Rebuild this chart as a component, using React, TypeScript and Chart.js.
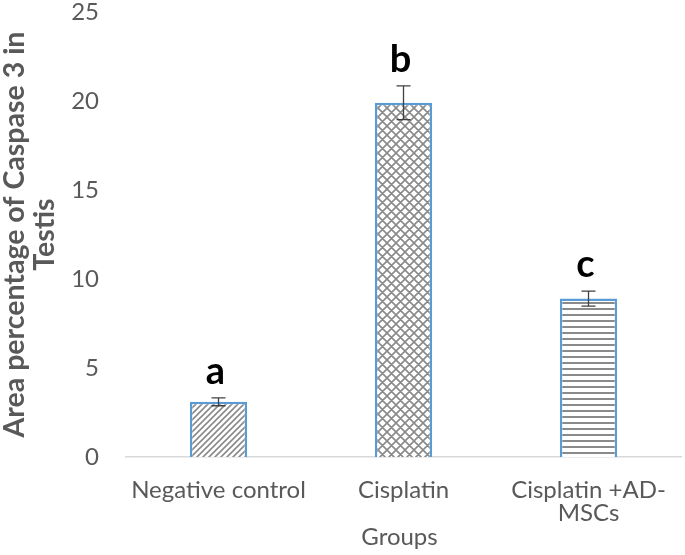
import React, { useEffect, useRef } from 'react';
import { Chart, registerables } from 'chart.js';

Chart.register(...registerables);

const categories = [['Negative control'], ['Cisplatin'], ['Cisplatin +AD-', 'MSCs']];
const values = [3.1, 19.9, 8.9];
const errors = [0.22, 0.95, 0.42];
const letters = ['a', 'b', 'c'];
const yMin = 0;
const yMax = 25;
const yStep = 5;
const yTitle = ['Area percentage of Caspase 3 in', 'Testis'];
const xTitle = 'Groups';

const FONT = 'Lato, "Open Sans", sans-serif';
const GREY = '#595959';

function makePattern(kind: string): CanvasPattern | string {
  const c = document.createElement('canvas');
  let w = 6, h = 6;
  if (kind === 'cross') { w = 9; h = 9; }
  if (kind === 'hline') { w = 4; h = 6; }
  c.width = w; c.height = h;
  const g = c.getContext('2d');
  if (!g) return '#ccc';
  g.fillStyle = '#ffffff';
  g.fillRect(0, 0, w, h);
  g.strokeStyle = '#8a8a8a';
  g.fillStyle = '#8a8a8a';
  if (kind === 'diag') {
    g.lineWidth = 1.6;
    g.beginPath();
    for (let k = -1; k <= 1; k++) {
      g.moveTo(-2 + k * w, h + 2);
      g.lineTo(w + 2 + k * w, -2);
    }
    g.stroke();
  } else if (kind === 'cross') {
    g.lineWidth = 1.6;
    g.beginPath();
    for (let k = -1; k <= 1; k++) {
      g.moveTo(-2 + k * w, -2);
      g.lineTo(w + 2 + k * w, h + 2);
      g.moveTo(-2 + k * w, h + 2);
      g.lineTo(w + 2 + k * w, -2);
    }
    g.stroke();
  } else {
    g.fillRect(0, 2, w, 2);
  }
  const ctx = document.createElement('canvas').getContext('2d');
  return (ctx && ctx.createPattern(c, 'repeat')) || '#ccc';
}

const annotPlugin = {
  id: 'annot',
  afterDatasetsDraw(chart: any) {
    const ctx = chart.ctx;
    const meta = chart.getDatasetMeta(0);
    const ys = chart.scales.y;
    ctx.save();
    meta.data.forEach((bar: any, i: number) => {
      const x = bar.x;
      const top = ys.getPixelForValue(values[i] + errors[i]);
      const bot = ys.getPixelForValue(values[i] - errors[i]);
      ctx.strokeStyle = '#404040';
      ctx.lineWidth = 1.3;
      ctx.beginPath();
      ctx.moveTo(x, top); ctx.lineTo(x, bot);
      ctx.moveTo(x - 7, top); ctx.lineTo(x + 7, top);
      ctx.moveTo(x - 7, bot); ctx.lineTo(x + 7, bot);
      ctx.stroke();
      ctx.fillStyle = '#000000';
      ctx.font = `bold 38px ${FONT}`;
      ctx.textAlign = 'center';
      ctx.textBaseline = 'alphabetic';
      ctx.fillText(letters[i], x - 3, top - 14);
    });
    const ca = chart.chartArea;
    ctx.fillStyle = GREY;
    ctx.font = `24px ${FONT}`;
    ctx.textAlign = 'center';
    ctx.textBaseline = 'middle';
    ctx.fillText(xTitle, (ca.left + ca.right) / 2 - 4, chart.height - 18);
    ctx.restore();
  },
};

export default function App() {
  const ref = useRef<HTMLCanvasElement>(null);
  useEffect(() => {
    if (!ref.current) return;
    const patterns = [makePattern('diag'), makePattern('cross'), makePattern('hline')];
    const chart = new Chart(ref.current, {
      type: 'bar',
      data: {
        labels: categories as any,
        datasets: [
          {
            data: values,
            backgroundColor: patterns as any,
            borderColor: '#5B9BD5',
            borderWidth: 2.5,
            barPercentage: 0.31,
            categoryPercentage: 1,
          },
        ],
      },
      options: {
        animation: false,
        responsive: false,
        devicePixelRatio: 1,
        layout: { padding: { left: 0, right: 4, top: 12, bottom: 0 } },
        plugins: { legend: { display: false }, tooltip: { enabled: false } },
        scales: {
          x: {
            grid: { display: false, drawTicks: false },
            border: { display: true, color: '#D9D9D9', width: 1.5 },
            ticks: { color: GREY, font: { family: FONT, size: 24, lineHeight: '23px' as any }, padding: 21.5, maxRotation: 0, autoSkip: false },
            afterFit: (s: any) => { s.height = 98; s.paddingLeft = 0; s.paddingRight = 0; },
          },
          y: {
            min: yMin,
            max: yMax,
            grid: { display: false, drawTicks: false },
            border: { display: false },
            ticks: { stepSize: yStep, color: GREY, font: { family: FONT, size: 24 }, padding: 27 },
            title: {
              display: true,
              text: yTitle,
              color: GREY,
              font: { family: FONT, size: 28.5, weight: 'bold', lineHeight: '30px' as any },
              padding: 0,
            },
            afterFit: (s: any) => { s.width = 126; s.paddingTop = 0; s.paddingBottom = 0; },
          },
        },
      },
      plugins: [annotPlugin],
    });
    return () => chart.destroy();
  }, []);
  return (
    <div style={{ position: 'fixed', left: 0, top: 0, width: 685, height: 555, background: '#fff' }}>
      <canvas ref={ref} width={685} height={555} style={{ width: 685, height: 555, display: 'block' }} />
    </div>
  );
}
